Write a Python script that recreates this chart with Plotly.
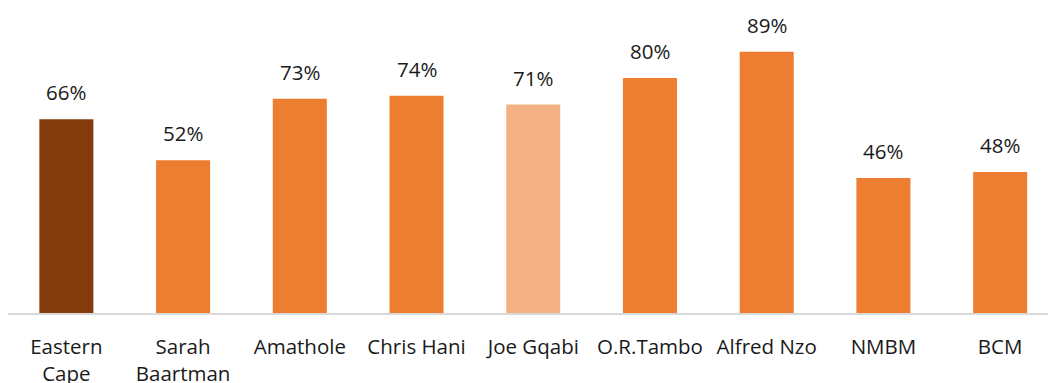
import plotly.graph_objects as go

categories = ["Eastern<br>Cape", "Sarah<br>Baartman", "Amathole", "Chris Hani", "Joe Gqabi",
              "O.R.Tambo", "Alfred Nzo", "NMBM", "BCM"]
values = [66, 52, 73, 74, 71, 80, 89, 46, 48]
labels = ["66%", "52%", "73%", "74%", "71%", "80%", "89%", "46%", "48%"]
colors = ["#843C0C", "#ED7D31", "#ED7D31", "#ED7D31", "#F4B183",
          "#ED7D31", "#ED7D31", "#ED7D31", "#ED7D31"]

FONT = "Open Sans"
fig = go.Figure()
fig.add_trace(go.Bar(
    x=list(range(len(categories))), y=values, marker_color=colors,
    marker_line_width=0, width=0.463, hoverinfo="skip",
))
for i, (v, t) in enumerate(zip(values, labels)):
    fig.add_annotation(x=i, y=v, text=t, showarrow=False, yanchor="bottom",
                       yshift=11, font=dict(family=FONT, size=20.5, color="#1a1a1a"))

fig.update_layout(
    width=1048, height=383,
    margin=dict(l=8, r=0, t=0, b=70, autoexpand=False),
    plot_bgcolor="white", paper_bgcolor="white",
    showlegend=False,
    xaxis=dict(range=[-0.5, 8.41], tickmode="array", tickvals=list(range(len(categories))),
               ticktext=categories, showgrid=False, zeroline=False, automargin=False,
               showline=True, linecolor="#D9D9D9", linewidth=1.5,
               ticks="", ticklabelstandoff=15,
               tickfont=dict(family=FONT, size=20.5, color="#1a1a1a")),
    yaxis=dict(range=[0, 106.6], visible=False, showgrid=False, zeroline=False,
               automargin=False),
)
fig.write_html("out.html")
